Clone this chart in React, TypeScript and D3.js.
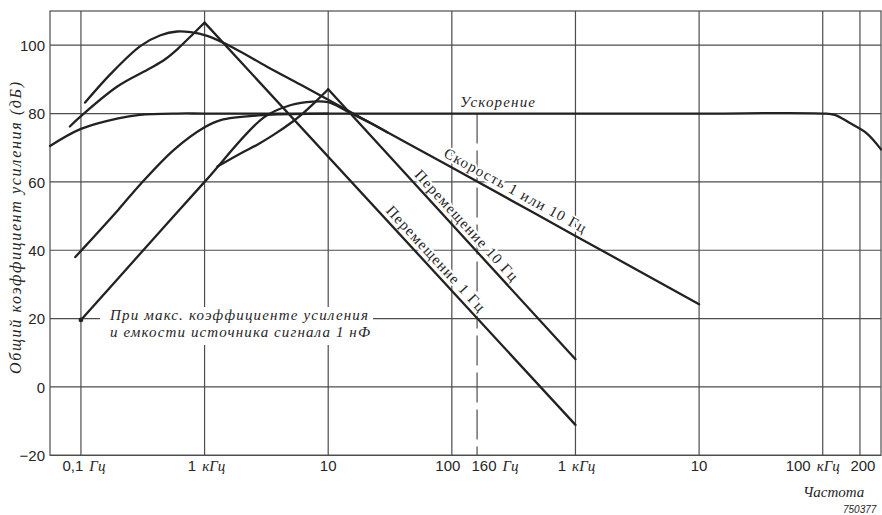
import React, { useEffect, useRef } from "react";
import * as d3 from "d3";

// frequency in Hz, gain in dB
const accelFreq = [0.0562, 0.1, 0.2, 0.3, 0.6, 1, 10, 100, 1000, 10000, 100000, 125000, 166000, 227000, 296000];
const accelGain = [70.5, 75.5, 78.6, 79.6, 80, 80, 80, 80, 80, 80, 80, 79.6, 77.2, 74.2, 69.5];

const velFreq = [0.108, 0.174, 0.304, 0.44, 0.6, 0.77, 1.05, 1.72, 3.2, 6, 10, 100, 1000, 10000];
const velGain = [83.2, 91.6, 99.8, 102.9, 104, 103.8, 102.7, 99.2, 93.7, 88.4, 84, 64.2, 44.2, 24.2];

const disp1RiseFreq = [0.0813, 0.1005, 0.197, 0.366, 0.48, 0.601, 0.819, 1];
const disp1RiseGain = [76.2, 79.3, 87.9, 93.3, 95.9, 98.8, 103.5, 106.6];
const disp1FallFreq = [1, 1000];
const disp1FallGain = [106.6, -11.1];

const disp10RiseFreq = [1.27, 1.97, 2.67, 3.66, 5.28, 6.01, 8.19, 10];
const disp10RiseGain = [64.5, 68.4, 70.9, 73.9, 77.9, 79.5, 84, 87.1];
const disp10FallFreq = [10, 1000];
const disp10FallGain = [87.1, 8.1];

const lowFreq = [0.09, 0.1, 0.2, 0.304, 0.565, 1, 1.35, 3.2, 10];
const lowGain = [38, 39.8, 51.8, 59.4, 69.4, 76, 78.1, 79.6, 80];

const maxGainFreq = [0.1, 0.3, 1, 3, 5, 7.5, 10, 14.3, 22, 30];
const maxGainGain = [19.6, 38.9, 60, 78.8, 82.5, 83.5, 83.3, 80.6, 77.2, 74.5];

const yTicks = [-20, 0, 20, 40, 60, 80, 100];
const xGrid = [0.1, 1, 10, 100, 1000, 10000, 100000, 200000];
const xTickVals = [0.1, 1, 10, 100, 160, 1000, 10000, 100000, 200000];
const xTickNums = ["0,1", "1", "10", "100", "160", "1", "10", "100", "200"];
const xTickUnits = ["Гц", "кГц", "", "", "Гц", "кГц", "", "кГц", ""];
const xTickShift = [3, 2, 0, -4, 18, 1, 0, -10, 3];

const SANS = "'Liberation Sans', Arial, sans-serif";
const SERIF = "'Liberation Serif', 'Times New Roman', serif";
const INK = "#262626";

const App = () => {
  const ref = useRef<SVGSVGElement>(null);
  const [width, height] = [882, 515];

  useEffect(() => {
    const svg = d3.select(ref.current);
    svg.selectAll("*").remove();

    const x = d3.scaleLog().domain([0.0562, 296000]).range([50, 881]);
    const y = d3.scaleLinear().domain([-20, 110]).range([455.3, 11]);
    const [x0, x1] = x.range();

    // grid --------------------------------------------------
    const grid = svg.append("g").attr("stroke", "#4d4d4d").attr("stroke-width", 1.2);
    yTicks.forEach((v) => {
      grid.append("line").attr("x1", x0).attr("x2", x1).attr("y1", y(v)).attr("y2", y(v));
    });
    xGrid.forEach((f) => {
      grid.append("line").attr("x1", x(f)).attr("x2", x(f)).attr("y1", y(-20)).attr("y2", y(110));
    });
    grid.append("rect")
      .attr("x", x0).attr("y", y(110))
      .attr("width", x1 - x0).attr("height", y(-20) - y(110))
      .attr("fill", "none");
    grid.append("line")
      .attr("x1", x(160)).attr("x2", x(160))
      .attr("y1", y(80)).attr("y2", y(-20))
      .attr("stroke-dasharray", "30,7");

    // axes labels ----------------------------------------
    const yAxis = svg.append("g")
      .attr("transform", `translate(${x0},0)`)
      .call(d3.axisLeft(y).tickValues(yTicks).tickSize(0).tickPadding(5)
        .tickFormat((d: any) => (d < 0 ? "\u2212" + -d : String(d))));
    yAxis.select(".domain").remove();
    yAxis.selectAll("text")
      .attr("font-family", SANS).attr("font-size", 15).attr("fill", INK).attr("dy", "0.36em");

    const xl = svg.append("g").attr("font-size", 15).attr("fill", INK).attr("text-anchor", "middle");
    xTickVals.forEach((f, i) => {
      const t = xl.append("text")
        .attr("x", x(f) + xTickShift[i]).attr("y", 471);
      t.append("tspan").attr("font-family", SANS).text(xTickNums[i]);
      if (xTickUnits[i]) {
        t.append("tspan").attr("dx", 6).attr("font-family", SERIF).attr("font-style", "italic")
          .text(xTickUnits[i]);
      }
    });

    svg.append("text")
      .attr("transform", "translate(21,228) rotate(-90)")
      .attr("text-anchor", "middle")
      .attr("font-family", SERIF).attr("font-style", "italic").attr("font-size", 16)
      .attr("textLength", 292).attr("lengthAdjust", "spacing")
      .attr("fill", INK)
      .text("Общий коэффициент усиления (дБ)");

    svg.append("text")
      .attr("x", 803).attr("y", 497)
      .attr("font-family", SERIF).attr("font-style", "italic").attr("font-size", 15)
      .attr("fill", INK).text("Частота");
    svg.append("text")
      .attr("x", 843).attr("y", 513)
      .attr("font-family", SANS).attr("font-style", "italic").attr("font-size", 10)
      .attr("fill", INK).text("750377");

    // annotations --------------------------------------------
    svg.append("rect")
      .attr("x", 100).attr("y", 307).attr("width", 273).attr("height", 38).attr("fill", "#fff");
    const note = svg.append("text")
      .attr("font-family", SERIF).attr("font-style", "italic").attr("font-size", 15).attr("fill", INK);
    note.append("tspan").attr("x", 110).attr("y", 320)
      .attr("textLength", 258).attr("lengthAdjust", "spacing")
      .text("При макс. коэффициенте усиления");
    note.append("tspan").attr("x", 110).attr("y", 337)
      .attr("textLength", 260).attr("lengthAdjust", "spacing")
      .text("и емкости источника сигнала 1 нФ");

    svg.append("text")
      .attr("x", 460).attr("y", 107)
      .attr("font-family", SERIF).attr("font-style", "italic").attr("font-size", 15)
      .attr("textLength", 75).attr("lengthAdjust", "spacing")
      .attr("fill", INK).text("Ускорение");

    // label laid along a straight piece of a curve
    function lineLabel(fa: number, ga: number, fb: number, gb: number, f: number, off: number, len: number, txt: string) {
      const ax = x(fa), ay = y(ga), bx = x(fb), by = y(gb);
      const th = Math.atan2(by - ay, bx - ax);
      const t = (x(f) - ax) / (bx - ax);
      const px = ax + t * (bx - ax) + off * Math.sin(th);
      const py = ay + t * (by - ay) - off * Math.cos(th);
      svg.append("text")
        .attr("transform", `translate(${px},${py}) rotate(${(th * 180) / Math.PI})`)
        .attr("font-family", SERIF).attr("font-size", 15)
        .attr("textLength", len).attr("lengthAdjust", "spacing")
        .attr("fill", INK)
        .attr("stroke", "#fff").attr("stroke-width", 4).attr("paint-order", "stroke")
        .text(txt);
    }
    lineLabel(velFreq[10], velGain[10], velFreq[13], velGain[13], 80, 6, 160, "Скорость 1 или 10 Гц");
    lineLabel(disp10FallFreq[0], disp10FallGain[0], disp10FallFreq[1], disp10FallGain[1], 46, 5, 145, "Перемещение 10 Гц");
    lineLabel(disp1FallFreq[0], disp1FallGain[0], disp1FallFreq[1], disp1FallGain[1], 27, 5, 138, "Перемещение 1 Гц");

    // curves -----------------------------------------------
    const zip = (fs: number[], gs: number[]) => fs.map((f, i) => [f, gs[i]] as [number, number]);
    const smooth = d3.line<[number, number]>().x((d) => x(d[0])).y((d) => y(d[1])).curve(d3.curveCatmullRom.alpha(0.5));
    const straight = d3.line<[number, number]>().x((d) => x(d[0])).y((d) => y(d[1]));

    const curves = svg.append("g")
      .attr("fill", "none").attr("stroke", "#222").attr("stroke-width", 2.3)
      .attr("stroke-linejoin", "round").attr("stroke-linecap", "round");
    [
      smooth(zip(accelFreq, accelGain)),
      smooth(zip(velFreq, velGain)),
      smooth(zip(disp1RiseFreq, disp1RiseGain)),
      straight(zip(disp1FallFreq, disp1FallGain)),
      smooth(zip(disp10RiseFreq, disp10RiseGain)),
      straight(zip(disp10FallFreq, disp10FallGain)),
      smooth(zip(lowFreq, lowGain)),
      smooth(zip(maxGainFreq, maxGainGain)),
    ].forEach((d) => curves.append("path").attr("d", d));

    svg.append("circle")
      .attr("cx", x(maxGainFreq[0])).attr("cy", y(maxGainGain[0]))
      .attr("r", 2.4).attr("fill", "#222");
  }, []);

  return (
    <svg
      ref={ref}
      width={width}
      height={height}
      style={{ position: "absolute", left: 0, top: 0, background: "#fff" }}
    />
  );
};

export default App;
